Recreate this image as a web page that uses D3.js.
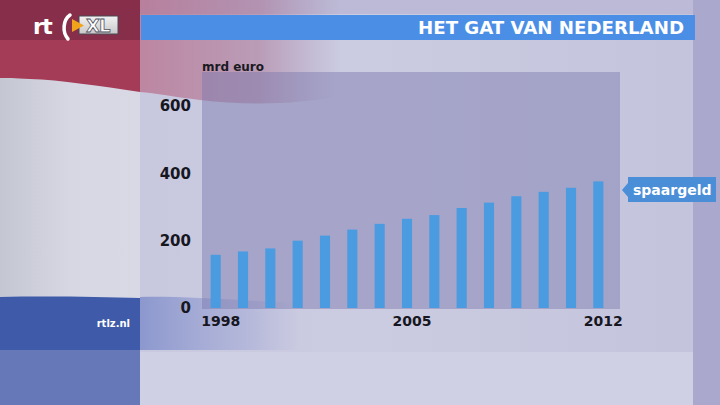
<!DOCTYPE html>
<html><head><meta charset="utf-8">
<script src="https://cdn.jsdelivr.net/npm/d3@7/dist/d3.min.js"></script>
<style>html,body{margin:0;padding:0;background:#c9c9df;}svg{display:block;}</style>
</head><body>
<svg id="c" width="720" height="405"></svg>
<script>
const years = [1998,1999,2000,2001,2002,2003,2004,2005,2006,2007,2008,2009,2010,2011,2012];
const spaargeld = [158,168,177,200,215,233,250,265,276,297,313,332,345,357,376];
const yTicks = [0,200,400,600];
const xTickLabels = [1998,2005,2012];
const title = "HET GAT VAN NEDERLAND";
const unitLabel = "mrd euro";
const seriesLabel = "spaargeld";

const svg = d3.select("#c");
const defs = svg.append("defs");

function lin(id, x1,y1,x2,y2, stops){
  const g = defs.append("linearGradient").attr("id",id)
    .attr("x1",x1).attr("y1",y1).attr("x2",x2).attr("y2",y2);
  stops.forEach(s=>g.append("stop").attr("offset",s[0]).attr("stop-color",s[1]).attr("stop-opacity",s[2]==null?1:s[2]));
}
lin("bgG","0","0","1","0",[[0,"#c6c6de"],[0.5,"#cbcbe1"],[1,"#c3c3dc"]]);
lin("redFade","0","0","1","0",[[0,"#b4506e",0.55],[0.6,"#a4587a",0.4],[1,"#9a6a90",0]]);
lin("blueFade","0","0","1","0",[[0,"#5a70c0",0.55],[0.7,"#7c88c8",0.25],[1,"#8b95cc",0]]);
lin("whiteL","0","0","1","0",[[0,"#c4c6d2"],[0.5,"#d6d7e3"],[1,"#d9d9e6"]]);
lin("xlBox","0","0","0","1",[[0,"#f2f2f2"],[1,"#c8c8c8"]]);

// background
svg.append("rect").attr("width",720).attr("height",405).attr("fill","url(#bgG)");
svg.append("rect").attr("x",140).attr("y",0).attr("width",580).attr("height",14).attr("fill","#bcbad6");
svg.append("rect").attr("x",693).attr("y",0).attr("width",27).attr("height",405).attr("fill","#aaa8cd");
svg.append("rect").attr("x",140).attr("y",352).attr("width",553).attr("height",53).attr("fill","#cfd0e4");

// faded flag right of left panel
svg.append("path").attr("d","M140,0 L340,0 L340,96 C300,104 250,106 200,100 C175,97 155,93 140,92 Z").attr("fill","url(#redFade)");
svg.append("path").attr("d","M140,297 C180,296 230,300 300,303 L300,350 L140,350 Z").attr("fill","url(#blueFade)");

// left panel flag
svg.append("rect").attr("x",0).attr("y",0).attr("width",140).attr("height",405).attr("fill","url(#whiteL)");
svg.append("path").attr("d","M0,0 L140,0 L140,92 C100,86 60,80 30,79 C15,78 5,78 0,78 Z").attr("fill","#a53c57");
svg.append("rect").attr("x",0).attr("y",0).attr("width",140).attr("height",40).attr("fill","#872f4a");
svg.append("path").attr("d","M0,297 C50,296 100,297 140,298 L140,350 L0,350 Z").attr("fill","#3e5aa8");
svg.append("rect").attr("x",0).attr("y",350).attr("width",140).attr("height",55).attr("fill","#6678b8");

// logo
const logo = svg.append("g");
logo.append("text").attr("x",33).attr("y",34).text("rt")
  .attr("font-family","DejaVu Sans").attr("font-weight","bold").attr("font-size",22)
  .attr("letter-spacing",-1.5).attr("fill","#ffffff");
logo.append("path").attr("d","M70,15 C63,20 62,32 68,39").attr("fill","none")
  .attr("stroke","#ffffff").attr("stroke-width",3.5).attr("stroke-linecap","round");
logo.append("rect").attr("x",79).attr("y",16).attr("width",39).attr("height",18).attr("fill","url(#xlBox)")
  .attr("stroke","#4a4a55").attr("stroke-width",1);
logo.append("path").attr("d","M72,19 L84,25.5 L72,32 Z").attr("fill","#f2a31c");
logo.append("text").attr("x",86).attr("y",32).text("XL")
  .attr("font-family","DejaVu Sans").attr("font-weight","bold").attr("font-size",18)
  .attr("letter-spacing",-1).attr("fill","#ffffff").attr("stroke","#505060").attr("stroke-width",0.8);

// title bar
svg.append("rect").attr("x",141).attr("y",15).attr("width",554).attr("height",25).attr("fill","#4b8ee6");
svg.append("text").attr("x",684).attr("y",34).attr("text-anchor","end").text(title)
  .attr("font-family","DejaVu Sans Condensed, DejaVu Sans").attr("font-weight","bold").attr("font-size",18)
  .attr("fill","#ffffff").attr("textLength",266).attr("lengthAdjust","spacingAndGlyphs");

// scales
const y = d3.scaleLinear().domain([0,600]).range([308,106]);
const x = d3.scaleBand().domain(years).range([202,612]).paddingInner(0.63).paddingOuter(0.315);

// plot area
svg.append("rect").attr("x",202).attr("y",72).attr("width",418).attr("height",237)
  .attr("fill","#7a78ac").attr("opacity",0.45);

svg.append("text").attr("x",202).attr("y",71).text(unitLabel)
  .attr("font-family","DejaVu Sans").attr("font-weight","bold").attr("font-size",12).attr("fill","#1a1a22");

// bars
svg.append("g").selectAll("rect").data(years).join("rect")
  .attr("x",d=>x(d)).attr("width",x.bandwidth())
  .attr("y",(d,i)=>y(spaargeld[i])).attr("height",(d,i)=>y(0)-y(spaargeld[i]))
  .attr("fill","#4b9be0");

// y axis labels
const yAxis = d3.axisLeft(y).tickValues(yTicks).tickSize(0).tickPadding(0);
const yg = svg.append("g").attr("transform","translate(191,0)").call(yAxis);
yg.select(".domain").remove();
yg.selectAll("text").attr("font-family","DejaVu Sans").attr("font-weight","bold").attr("font-size",15).attr("fill","#16161e");

// x axis labels
const xAxis = d3.axisBottom(x).tickValues(xTickLabels).tickSize(0).tickPadding(0);
const xg = svg.append("g").attr("transform","translate(5,316)").call(xAxis);
xg.select(".domain").remove();
xg.selectAll("text").attr("font-family","DejaVu Sans").attr("font-weight","bold").attr("font-size",14).attr("fill","#16161e");

// series label
const ly = 190;
svg.append("path").attr("d",`M622,${ly} L628,${ly-7} L628,${ly-13} L716,${ly-13} L716,${ly+12} L628,${ly+12} L628,${ly+7} Z`).attr("fill","#4a8ed8");
svg.append("text").attr("x",633).attr("y",ly+5).text(seriesLabel)
  .attr("font-family","DejaVu Sans").attr("font-weight","bold").attr("font-size",14).attr("fill","#ffffff");

// footer
svg.append("text").attr("x",130).attr("y",327).attr("text-anchor","end").text("rtlz.nl")
  .attr("font-family","DejaVu Sans").attr("font-weight","bold").attr("font-size",10).attr("fill","#ffffff");
</script>
</body></html>
